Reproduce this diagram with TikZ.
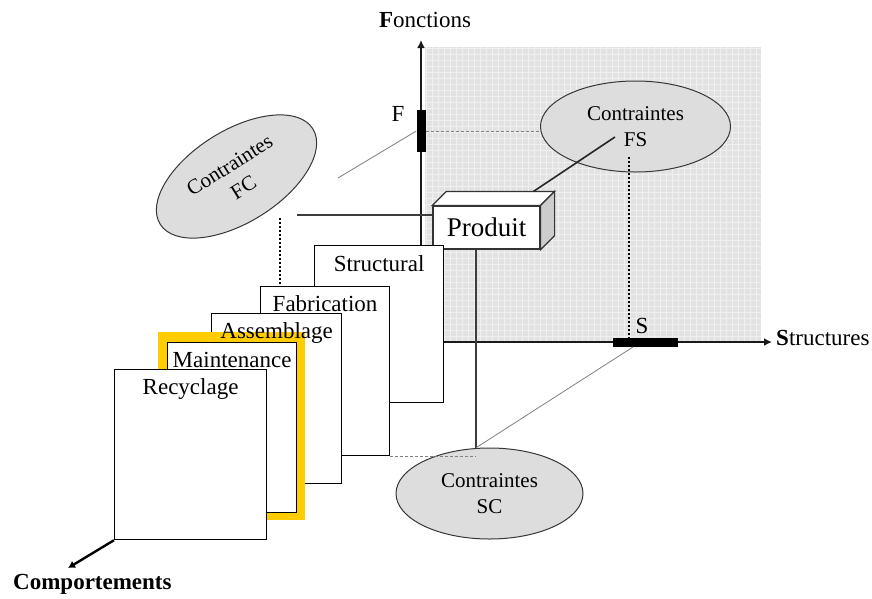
\documentclass[tikz,border=0pt]{standalone}
\usepackage{fontspec}
\setmainfont{Liberation Serif}
\usetikzlibrary{arrows.meta,shapes.geometric,calc}

\definecolor{planefill}{RGB}{226,226,226}
\definecolor{planegrid}{RGB}{240,240,240}
\definecolor{ovalfill}{RGB}{221,221,221}
\definecolor{ovaledge}{RGB}{55,55,55}
\definecolor{hilite}{RGB}{255,204,0}
\definecolor{linkdark}{RGB}{60,60,60}
\definecolor{boxside}{RGB}{205,205,205}

\begin{document}
\begin{tikzpicture}[x=1pt,y=-1pt,
  lbl/.style={font=\fontsize{23}{26}\selectfont, inner sep=0pt},
  card/.style={draw=black, line width=1.2pt, fill=white, anchor=north west, inner sep=0pt},
  oval/.style={ellipse, draw=ovaledge, line width=1pt, fill=ovalfill, inner sep=0pt,
               align=center, font=\fontsize{21}{26}\selectfont},
  axis/.style={line width=2.6pt, draw=black!90, -{Latex[length=8pt,width=8pt]}},
  marker/.style={fill=black, inner sep=0pt},
  thinlink/.style={draw=gray, line width=0.8pt},
  thicklink/.style={draw=linkdark, line width=2pt},
  dotlink/.style={draw=black, line width=1.2pt, dash pattern=on 2pt off 2pt},
  greydash/.style={draw=gray, line width=1pt, dash pattern=on 3pt off 2pt},
]
\useasboundingbox (0,0) rectangle (872,598);

% function-structure plane
\fill[planefill] (425,47) rectangle (761,342);
\draw[planegrid, line width=0.6pt, step=6pt] (425,47) grid (761,342);

% axes
\coordinate (O) at (421,342);
\coordinate (ftip) at (421,40);
\coordinate (stip) at (772,342);
\coordinate (ctip) at (68,568);
\draw[axis] (O) -- (ftip);
\draw[axis] (O) -- (stip);

\node[lbl, anchor=base] (fonc) at (425,27) {\textbf{F}onctions};
\node[lbl, anchor=base west] (struc) at (776,345) {\textbf{S}tructures};
\node[anchor=base west, inner sep=0pt, font=\bfseries\fontsize{23}{26}\selectfont] (comp) at (13,589) {Comportements};

% constraint ellipses
\node[oval, minimum width=190pt, minimum height=91pt] (fs) at (635.5,126.5) {Contraintes\\FS};
\node[oval, minimum width=187pt, minimum height=91pt] (sc) at (489.5,493.5) {Contraintes\\SC};
\node[oval, minimum width=180pt, minimum height=92pt, rotate=32] (fc) at (236.5,176.5) {Contraintes\\FC};

% markers on the axes
\node[marker, minimum width=9pt, minimum height=42pt] (fbar) at (421,131) {};
\node[marker, minimum width=65pt, minimum height=9pt] (sbar) at (645.5,342.5) {};
\node[lbl] (flabel) at (398,114) {F};
\node[lbl] (slabel) at (642,326) {S};

% links from the markers
\coordinate (fcend) at (338,178);
\coordinate (fsin) at (615,137);
\coordinate (fsdot) at (629,157);
\coordinate (sfoot) at (633,347);
\coordinate (hstart) at (297,215);
\coordinate (vstart) at (280,218);
\draw[thinlink] (fbar.west) -- (fcend);
\draw[greydash] (fbar.east) -- (fbar.east -| fs.west);
\draw[dotlink] (fsdot) -- (fsdot |- sbar.center);

% product box
\node[draw=black!80, line width=1.2pt, fill=white, minimum width=107pt, minimum height=43pt,
      inner sep=0pt, font=\fontsize{27}{30}\selectfont] (prod) at (486.5,227.5) {Produit};
\draw[black!80, line width=1.2pt, fill=white]
  (prod.north west) -- ++(14,-14) -- ($(prod.north east)+(14,-14)$) -- (prod.north east) -- cycle;
\draw[black!80, line width=1.2pt, fill=boxside]
  (prod.north east) -- ++(14,-14) -- ($(prod.south east)+(14,-14)$) -- (prod.south east) -- cycle;
\coordinate (pdown) at ($(prod.south west)+(44,0)$);

\draw[black!85, line width=1.6pt] (fsin) -- ($(prod.north)+(47,-14)$);
\draw[thicklink] (hstart) -- (hstart -| prod.west);

% stacked behaviour cards
\node[card, minimum width=129pt, minimum height=157pt] (str) at (314,245) {};
\node[lbl, anchor=base] (strl) at ([yshift=-26pt]str.north) {Structural};
\node[card, minimum width=129pt, minimum height=169pt] (fab) at (260,286) {};
\node[lbl, anchor=base] (fabl) at ([yshift=-25pt]fab.north) {Fabrication};
\node[card, minimum width=130pt, minimum height=170pt] (asm) at (211,313) {};
\fill[hilite] (158,332) rectangle (305,520);
\node[lbl, anchor=base] (asml) at ([yshift=-25pt]asm.north) {Assemblage};
\node[card, minimum width=129pt, minimum height=170pt] (man) at (167,342) {};
\node[lbl, anchor=base] (manl) at ([yshift=-25pt]man.north) {Maintenance};
\node[card, minimum width=152pt, minimum height=170pt] (rec) at (114,369) {};
\node[lbl, anchor=base] (recl) at ([yshift=-25pt]rec.north) {Recyclage};

% remaining links
\draw[dotlink] (vstart) -- (vstart |- fab.north);
\draw[thicklink] (pdown) -- (pdown |- sc.north);
\draw[thinlink] (sfoot) -- (pdown |- sc.north);
\draw[greydash] (fab.south east) -- (fab.south east -| pdown);
\draw[line width=2.4pt, -{Latex[length=7pt,width=8pt]}] (rec.south west) -- (ctip);

\end{tikzpicture}
\end{document}
